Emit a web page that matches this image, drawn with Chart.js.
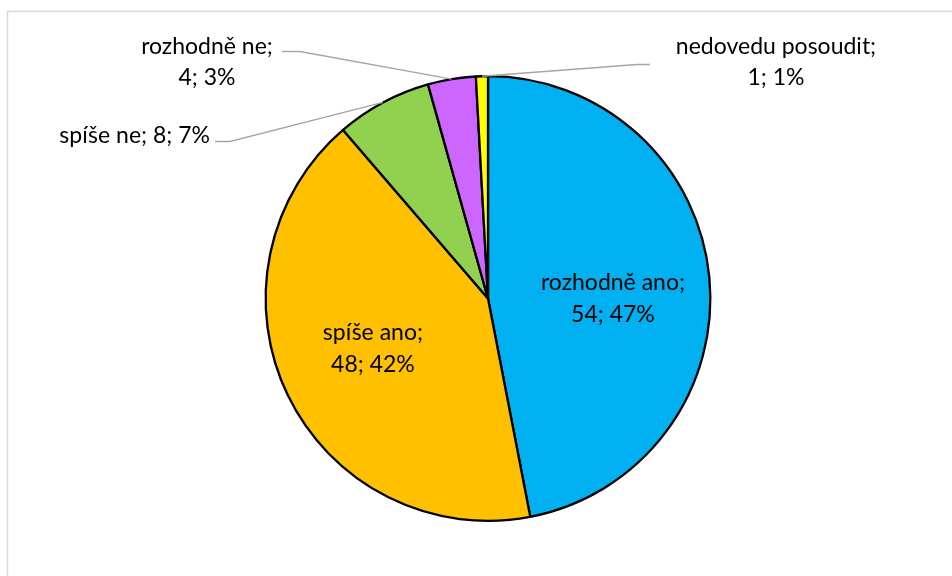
<!DOCTYPE html>
<html><head><meta charset="utf-8">
<script src="https://cdn.jsdelivr.net/npm/chart.js@4/dist/chart.umd.min.js"></script>
<style>html,body{margin:0;padding:0;background:#fff;}#wrap{position:relative;width:952px;height:576px;}</style>
</head><body><div id="wrap"><canvas id="c" width="952" height="576"></canvas></div>
<script>
const categories = ["rozhodně ano", "spíše ano", "spíše ne", "rozhodně ne", "nedovedu posoudit"];
const counts = [54, 48, 8, 4, 1];
const percents = ["47%", "42%", "7%", "3%", "1%"];
const colors = ["#00B0F0", "#FFC000", "#92D050", "#CC66FF", "#FFFF00"];

// label layout (style): inside labels or outside with leader lines; offsets relative to pie centre
const labelStyle = [
  {inside: true, shift: [1, 12]},
  {inside: true, shift: [-3, -4]},
  {inside: false, oneLine: true, elbow: [-258, -157], end: [-273, -157], text: [-278, -163], align: "right"},
  {inside: false, elbow: [-188, -247], end: [-206, -247], text: [-281, -252], align: "center"},
  {inside: false, elbow: [149, -234], end: [162, -234], text: [288, -252], align: "center"}
];
const FONT = '23px "Lato", "Open Sans", sans-serif';

const frame = {
  id: 'frame',
  beforeDraw(chart) {
    const ctx = chart.ctx;
    ctx.save();
    ctx.strokeStyle = '#D9D9D9';
    ctx.lineWidth = 1.5;
    ctx.beginPath();
    ctx.moveTo(7.5, 580); ctx.lineTo(7.5, 11.5); ctx.lineTo(960, 11.5);
    ctx.stroke();
    ctx.restore();
  }
};

const labels = {
  id: 'pieLabels',
  afterDraw(chart) {
    const ctx = chart.ctx;
    const meta = chart.getDatasetMeta(0);
    ctx.save();
    ctx.font = FONT;
    ctx.fillStyle = '#000';
    ctx.textBaseline = 'middle';
    meta.data.forEach((arc, i) => {
      const p = arc.getProps(['x', 'y', 'startAngle', 'endAngle', 'outerRadius']);
      const mid = (p.startAngle + p.endAngle) / 2;
      const st = labelStyle[i];
      const l1 = categories[i] + ';';
      const l2 = counts[i] + '; ' + percents[i];
      if (st.inside) {
        const r = p.outerRadius * 0.56;
        const x = p.x + Math.cos(mid) * r + st.shift[0], y = p.y + Math.sin(mid) * r + st.shift[1];
        ctx.textAlign = 'center';
        ctx.fillText(l1, x, y - 16);
        ctx.fillText(l2, x, y + 16);
      } else {
        const ex = p.x + Math.cos(mid) * p.outerRadius, ey = p.y + Math.sin(mid) * p.outerRadius;
        ctx.strokeStyle = '#A6A6A6';
        ctx.lineWidth = 1.3;
        ctx.beginPath();
        ctx.moveTo(ex, ey);
        ctx.lineTo(p.x + st.elbow[0], p.y + st.elbow[1]);
        ctx.lineTo(p.x + st.end[0], p.y + st.end[1]);
        ctx.stroke();
        ctx.textAlign = st.align;
        const tx = p.x + st.text[0], ty = p.y + st.text[1];
        if (st.oneLine) {
          ctx.fillText(l1 + ' ' + l2, tx, ty);
        } else {
          ctx.fillText(l1, tx, ty);
          ctx.fillText(l2, tx, ty + 31);
        }
      }
    });
    ctx.restore();
  }
};

new Chart(document.getElementById('c'), {
  type: 'pie',
  data: {
    labels: categories,
    datasets: [{
      data: counts,
      backgroundColor: colors,
      borderColor: '#000',
      borderWidth: 2.3
    }]
  },
  options: {
    responsive: false,
    animation: false,
    layout: {padding: {top: 75, bottom: 54, left: 264, right: 240}},
    plugins: {legend: {display: false}, tooltip: {enabled: false}}
  },
  plugins: [frame, labels]
});
</script>
</body></html>
